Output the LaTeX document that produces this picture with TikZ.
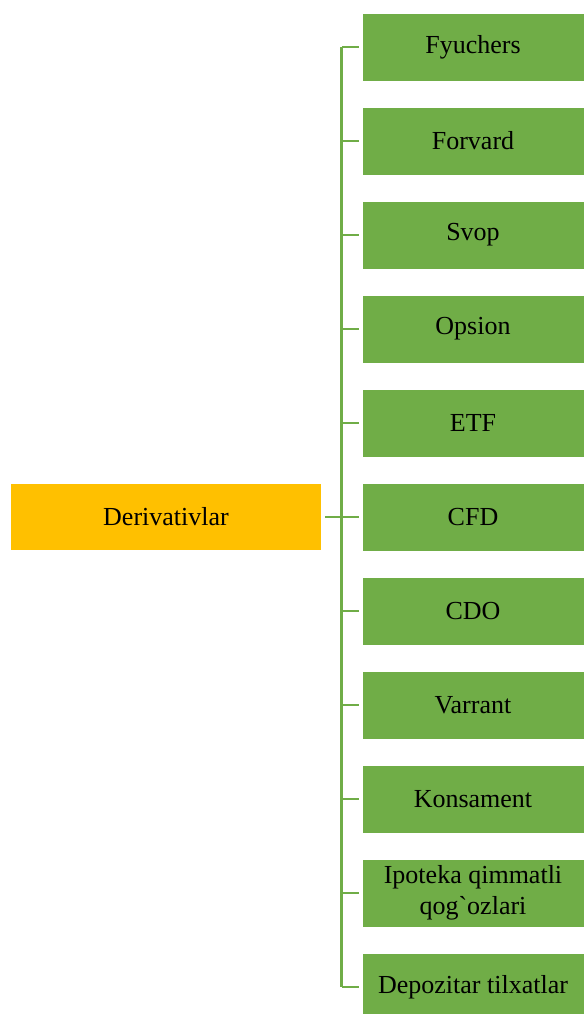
\documentclass[tikz,border=0pt]{standalone}
\usepackage{fontspec}
\setmainfont{Liberation Serif}
\definecolor{leafgreen}{HTML}{70AD47}
\definecolor{rootorange}{HTML}{FFC000}
\tikzset{
  leaf/.style={rectangle, fill=leafgreen, draw=white, line width=0.6pt,
    minimum width=222pt, minimum height=68pt, inner sep=2pt,
    align=center, font=\fontsize{26}{31}\selectfont},
  root/.style={rectangle, fill=rootorange, draw=white, line width=0.6pt,
    minimum width=311pt, minimum height=67pt, font=\fontsize{26}{31}\selectfont},
  link/.style={draw=leafgreen, line width=2.4pt}
}
\begin{document}
\begin{tikzpicture}[x=1pt, y=1pt]

    % page frame
    \useasboundingbox (0,0) rectangle (584,-1014);

    % root node
    \node[root] (root) at (166,-517) {Derivativlar};

    % trunk of the tree
    \coordinate (trunk) at (341.5,-517);

    % leaves
    \foreach \txt [count=\i] in {Fyuchers, Forvard, Svop, Opsion, ETF, CFD, CDO,
        Varrant, Konsament, {Ipoteka qimmatli\\qog\textasciigrave ozlari},
        Depozitar tilxatlar}
    {
        \node[leaf] (leaf\i) at (473,{-47-94*(\i-1)}) {\txt};
        \draw[link] ([xshift=-3pt]leaf\i.west) -- (leaf\i.west -| trunk);
    }

    % vertical trunk
    \draw[link] (leaf1.west -| trunk) -- (leaf11.west -| trunk);

    % root to trunk
    \draw[link] ([xshift=3pt]root.east) -- ([xshift=-3pt]leaf6.west);

\end{tikzpicture}
\end{document}
